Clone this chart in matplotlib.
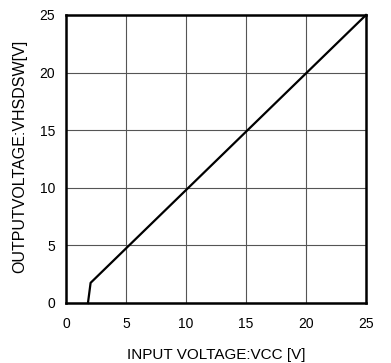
import matplotlib
matplotlib.use("Agg")
import matplotlib.pyplot as plt

plt.rcParams['font.family'] = ['Liberation Sans', 'DejaVu Sans']

vcc = [1.83, 2.05, 25.0]
vout = [0.0, 1.75, 25.0]
ticks = [0, 5, 10, 15, 20, 25]

fig = plt.figure(figsize=(3.91, 3.63), dpi=100)
ax = fig.add_axes([66/391, 1 - 303/363, 300/391, 288/363])
ax.plot(vcc, vout, color='black', lw=1.6, clip_on=False, zorder=3)
ax.set_xlim(0, 25)
ax.set_ylim(0, 25)
ax.set_xticks(ticks)
ax.set_yticks(ticks)
ax.grid(True, color='#555555', lw=0.8)
for s in ax.spines.values():
    s.set_linewidth(1.8)
    s.set_color('black')
ax.tick_params(axis='x', length=0, labelsize=10, pad=10)
ax.tick_params(axis='y', length=0, labelsize=10, pad=8)
fig.text(216/391, 1 - 355/363, 'INPUT VOLTAGE:VCC [V]', fontsize=11,
         ha='center', va='center')
fig.text(20/391, 1 - 156/363, 'OUTPUTVOLTAGE:VHSDSW[V]', rotation=90,
         fontsize=11.5, ha='center', va='center')
fig.savefig('out.png', dpi=100)
